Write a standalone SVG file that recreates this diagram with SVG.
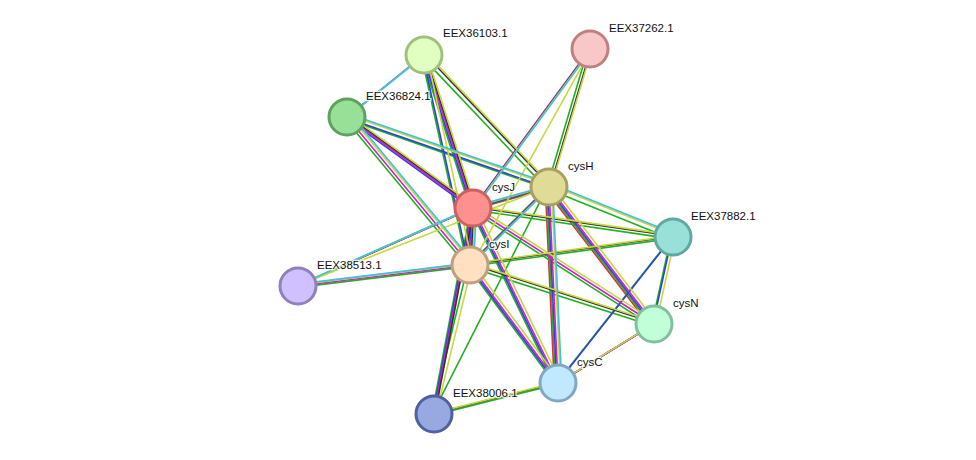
<svg xmlns="http://www.w3.org/2000/svg" width="976" height="460" viewBox="0 0 976 460">
<style>
.e line{stroke-width:1.6;fill:none}
.n circle{stroke-width:3}
text{font-family:"Liberation Sans",Arial,sans-serif;font-size:11.5px;fill:#111;stroke:#fff;stroke-width:2.5;paint-order:stroke;stroke-opacity:0.8}
</style>
<rect width="976" height="460" fill="#fff"/>
<g id="connectors" class="e">
<g stroke="#e03030" transform="translate(-3.6,2.4)">
<line x1="549" y1="187" x2="473" y2="208"/><line x1="473" y1="208" x2="470" y2="265"/><line x1="549" y1="187" x2="470" y2="265"/>
<line x1="549" y1="187" x2="654" y2="324"/><line x1="549" y1="187" x2="558" y2="383"/><line x1="654" y1="324" x2="558" y2="383"/>
</g>
<g stroke="#22b022" transform="translate(-2.4,1.6)">
<line x1="424" y1="55" x2="473" y2="208"/><line x1="424" y1="55" x2="470" y2="265"/><line x1="424" y1="55" x2="549" y2="187"/>
<line x1="347" y1="117" x2="549" y2="187"/><line x1="347" y1="117" x2="470" y2="265"/>
<line x1="590" y1="49" x2="549" y2="187"/>
<line x1="549" y1="187" x2="473" y2="208"/><line x1="473" y1="208" x2="470" y2="265"/><line x1="549" y1="187" x2="470" y2="265"/>
<line x1="470" y1="265" x2="298" y2="286"/>
<line x1="473" y1="208" x2="673" y2="237"/><line x1="549" y1="187" x2="673" y2="237"/><line x1="470" y1="265" x2="673" y2="237"/>
<line x1="473" y1="208" x2="654" y2="324"/><line x1="549" y1="187" x2="654" y2="324"/><line x1="470" y1="265" x2="654" y2="324"/>
<line x1="473" y1="208" x2="558" y2="383"/><line x1="549" y1="187" x2="558" y2="383"/><line x1="470" y1="265" x2="558" y2="383"/>
<line x1="654" y1="324" x2="558" y2="383"/><line x1="673" y1="237" x2="654" y2="324"/><line x1="673" y1="237" x2="558" y2="383"/>
<line x1="473" y1="208" x2="434" y2="414"/><line x1="470" y1="265" x2="434" y2="414"/><line x1="549" y1="187" x2="434" y2="414"/><line x1="558" y1="383" x2="434" y2="414"/>
</g>
<g stroke="#3040e0" transform="translate(-1.2,0.8)">
<line x1="424" y1="55" x2="473" y2="208"/><line x1="424" y1="55" x2="470" y2="265"/><line x1="424" y1="55" x2="347" y2="117"/>
<line x1="347" y1="117" x2="473" y2="208"/><line x1="347" y1="117" x2="549" y2="187"/>
<line x1="549" y1="187" x2="473" y2="208"/><line x1="473" y1="208" x2="470" y2="265"/><line x1="549" y1="187" x2="470" y2="265"/>
<line x1="549" y1="187" x2="654" y2="324"/><line x1="473" y1="208" x2="558" y2="383"/><line x1="549" y1="187" x2="558" y2="383"/><line x1="470" y1="265" x2="558" y2="383"/>
<line x1="654" y1="324" x2="558" y2="383"/><line x1="673" y1="237" x2="654" y2="324"/><line x1="673" y1="237" x2="558" y2="383"/>
<line x1="473" y1="208" x2="434" y2="414"/>
</g>
<g stroke="#d020d0">
<line x1="424" y1="55" x2="473" y2="208"/><line x1="347" y1="117" x2="473" y2="208"/><line x1="347" y1="117" x2="470" y2="265"/>
<line x1="590" y1="49" x2="473" y2="208"/>
<line x1="549" y1="187" x2="473" y2="208"/><line x1="473" y1="208" x2="470" y2="265"/><line x1="549" y1="187" x2="470" y2="265"/>
<line x1="473" y1="208" x2="298" y2="286"/><line x1="470" y1="265" x2="298" y2="286"/>
<line x1="473" y1="208" x2="654" y2="324"/><line x1="549" y1="187" x2="654" y2="324"/>
<line x1="473" y1="208" x2="558" y2="383"/><line x1="549" y1="187" x2="558" y2="383"/><line x1="470" y1="265" x2="558" y2="383"/>
<line x1="654" y1="324" x2="558" y2="383"/><line x1="473" y1="208" x2="434" y2="414"/>
</g>
<g stroke="#333" transform="translate(1.2,-0.8)">
<line x1="424" y1="55" x2="473" y2="208"/><line x1="424" y1="55" x2="549" y2="187"/>
<line x1="347" y1="117" x2="473" y2="208"/>
<line x1="590" y1="49" x2="473" y2="208"/><line x1="590" y1="49" x2="549" y2="187"/>
<line x1="549" y1="187" x2="473" y2="208"/><line x1="473" y1="208" x2="470" y2="265"/><line x1="549" y1="187" x2="470" y2="265"/>
<line x1="473" y1="208" x2="298" y2="286"/>
<line x1="473" y1="208" x2="673" y2="237"/><line x1="470" y1="265" x2="673" y2="237"/>
<line x1="470" y1="265" x2="654" y2="324"/>
<line x1="473" y1="208" x2="434" y2="414"/><line x1="558" y1="383" x2="434" y2="414"/>
</g>
<g stroke="#c8d840" transform="translate(2.4,-1.6)">
<line x1="424" y1="55" x2="473" y2="208"/><line x1="424" y1="55" x2="470" y2="265"/><line x1="424" y1="55" x2="549" y2="187"/><line x1="424" y1="55" x2="347" y2="117"/>
<line x1="347" y1="117" x2="473" y2="208"/><line x1="347" y1="117" x2="549" y2="187"/><line x1="347" y1="117" x2="470" y2="265"/>
<line x1="590" y1="49" x2="473" y2="208"/><line x1="590" y1="49" x2="549" y2="187"/><line x1="590" y1="49" x2="470" y2="265"/>
<line x1="549" y1="187" x2="473" y2="208"/><line x1="473" y1="208" x2="470" y2="265"/><line x1="549" y1="187" x2="470" y2="265"/>
<line x1="473" y1="208" x2="298" y2="286"/><line x1="470" y1="265" x2="298" y2="286"/><line x1="549" y1="187" x2="298" y2="286"/>
<line x1="473" y1="208" x2="673" y2="237"/><line x1="549" y1="187" x2="673" y2="237"/><line x1="470" y1="265" x2="673" y2="237"/>
<line x1="473" y1="208" x2="654" y2="324"/><line x1="549" y1="187" x2="654" y2="324"/><line x1="470" y1="265" x2="654" y2="324"/>
<line x1="473" y1="208" x2="558" y2="383"/><line x1="549" y1="187" x2="558" y2="383"/><line x1="470" y1="265" x2="558" y2="383"/>
<line x1="654" y1="324" x2="558" y2="383"/><line x1="673" y1="237" x2="654" y2="324"/>
<line x1="470" y1="265" x2="434" y2="414"/><line x1="558" y1="383" x2="434" y2="414"/>
</g>
<g stroke="#40c0e0" transform="translate(3.6,-2.4)">
<line x1="424" y1="55" x2="347" y2="117"/><line x1="347" y1="117" x2="549" y2="187"/><line x1="347" y1="117" x2="470" y2="265"/>
<line x1="590" y1="49" x2="473" y2="208"/>
<line x1="549" y1="187" x2="473" y2="208"/><line x1="473" y1="208" x2="470" y2="265"/><line x1="549" y1="187" x2="470" y2="265"/>
<line x1="473" y1="208" x2="298" y2="286"/><line x1="470" y1="265" x2="298" y2="286"/>
<line x1="549" y1="187" x2="673" y2="237"/><line x1="549" y1="187" x2="558" y2="383"/>
</g>
</g>
<g class="n">
<g id="EEX36103.1"><circle cx="424" cy="55" r="18" fill="#e0ffc0" stroke="#a0c080"/><text x="443" y="37">EEX36103.1</text></g>
<g id="EEX37262.1"><circle cx="590" cy="49" r="18" fill="#f8c8c8" stroke="#c08080"/><text x="609" y="32">EEX37262.1</text></g>
<g id="EEX36824.1"><circle cx="347" cy="117" r="18" fill="#98e098" stroke="#60a060"/><text x="366" y="100">EEX36824.1</text></g>
<g id="cysH"><circle cx="549" cy="187" r="18" fill="#e0dc98" stroke="#a8a060"/><text x="568" y="170">cysH</text></g>
<g id="cysJ"><circle cx="473" cy="208" r="18" fill="#ff9090" stroke="#d06060"/><text x="492" y="191">cysJ</text></g>
<g id="EEX37882.1"><circle cx="673" cy="237" r="18" fill="#98e0d8" stroke="#60a8a0"/><text x="691" y="220">EEX37882.1</text></g>
<g id="cysI"><circle cx="470" cy="265" r="18" fill="#ffe0c0" stroke="#c0a080"/><text x="489" y="248">cysI</text></g>
<g id="EEX38513.1"><circle cx="298" cy="286" r="18" fill="#d0c0ff" stroke="#9080c0"/><text x="317" y="269">EEX38513.1</text></g>
<g id="cysN"><circle cx="654" cy="324" r="18" fill="#c0ffd8" stroke="#80c0a0"/><text x="673" y="307">cysN</text></g>
<g id="cysC"><circle cx="558" cy="383" r="18" fill="#c0e8ff" stroke="#80a8c0"/><text x="577" y="366">cysC</text></g>
<g id="EEX38006.1"><circle cx="434" cy="414" r="18" fill="#98a8e0" stroke="#5060a0"/><text x="453" y="397">EEX38006.1</text></g>
</g>
</svg>
